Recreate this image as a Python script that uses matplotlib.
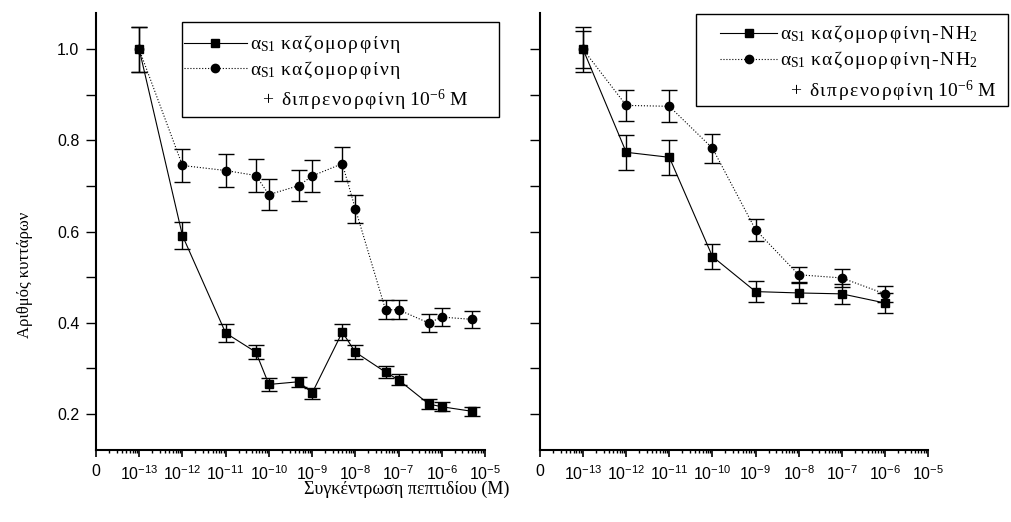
import matplotlib
matplotlib.use("Agg")
import matplotlib.pyplot as plt
from matplotlib.patches import Rectangle
from matplotlib.ticker import FixedLocator, NullFormatter

plt.rcParams["font.family"] = ["Liberation Sans", "DejaVu Sans"]
plt.rcParams["mathtext.default"] = "regular"
plt.rcParams["axes.unicode_minus"] = False

# left panel: as1-casomorphin alone and with diprenorphine 1e-6 M
conc_left = [1e-13, 1e-12, 1e-11, 5e-11, 1e-10, 5e-10, 1e-9, 5e-9, 1e-8,
             5e-8, 1e-7, 5e-7, 1e-6, 5e-6]
cas_left = [1.0, 0.591, 0.377, 0.335, 0.264, 0.270, 0.245, 0.379, 0.335,
            0.291, 0.274, 0.221, 0.215, 0.205]
cas_left_err = [0.05, 0.030, 0.019, 0.016, 0.014, 0.011, 0.012, 0.018, 0.016,
                0.013, 0.012, 0.010, 0.010, 0.010]
dip_left = [1.0, 0.745, 0.734, 0.723, 0.681, 0.701, 0.722, 0.749, 0.650,
            0.428, 0.428, 0.399, 0.412, 0.407]
dip_left_err = [0.05, 0.037, 0.036, 0.036, 0.034, 0.034, 0.036, 0.037, 0.031,
                0.021, 0.021, 0.019, 0.020, 0.019]

# right panel: as1-casomorphin-NH2 alone and with diprenorphine 1e-6 M
conc_right = [1e-13, 1e-12, 1e-11, 1e-10, 1e-9, 1e-8, 1e-7, 1e-6]
amide = [1.0, 0.774, 0.763, 0.545, 0.468, 0.465, 0.463, 0.443]
amide_err = [0.04, 0.038, 0.038, 0.027, 0.023, 0.023, 0.022, 0.022]
amide_dip = [1.0, 0.877, 0.875, 0.783, 0.604, 0.505, 0.498, 0.463]
amide_dip_err = [0.05, 0.034, 0.035, 0.032, 0.024, 0.018, 0.020, 0.018]

decades = list(range(-14, -4))
xtick_labels = ["0"] + [f"10$^{{{d}}}$" for d in decades[1:]]
ytick_major = [0.2, 0.4, 0.6, 0.8, 1.0]
ytick_minor = [0.3, 0.5, 0.7, 0.9]

SERIF = ["Liberation Serif", "DejaVu Serif"]
GAP = "\u200a"
KEY_SIZE = 14


def spaced(s):
    # the original legend text is letter-spaced
    return GAP.join(s)


fig = plt.figure(figsize=(10.12, 5.22), dpi=100)
ax_l = fig.add_axes([96 / 1012, 72 / 522, 389 / 1012, 437 / 522])
ax_r = fig.add_axes([540 / 1012, 72 / 522, 388 / 1012, 437 / 522])

SQ = dict(marker="s", linestyle="-", markersize=5.5)
CI = dict(marker="o", linestyle=":", markersize=6)


def draw_series(ax, x, y, err, style):
    ax.errorbar(x, y, yerr=err, fmt="none", ecolor="black", elinewidth=1.0,
                capsize=6, capthick=1.0, zorder=2)
    ax.plot(x, y, color="black", linewidth=0.8, markerfacecolor="black",
            markeredgecolor="black", zorder=3, **style)


def style_axes(ax, show_ylabels):
    ax.set_xscale("log")
    ax.set_xlim(1e-14, 1e-5)
    ax.set_ylim(0.12, 1.08)
    ax.set_xticks([10.0 ** d for d in decades], labels=xtick_labels)
    ax.xaxis.set_minor_locator(FixedLocator(
        [k * 10.0 ** d for d in decades[:-1] for k in range(2, 10)]))
    ax.xaxis.set_minor_formatter(NullFormatter())
    ax.set_yticks(ytick_major, labels=[f"{v:.1f}" for v in ytick_major])
    ax.set_yticks(ytick_minor, minor=True)
    for s in ("top", "right"):
        ax.spines[s].set_visible(False)
    for s in ("left", "bottom"):
        ax.spines[s].set_linewidth(1.5)
    ax.tick_params(axis="y", which="both", direction="out", length=7,
                   width=1.0, labelsize=11.5, pad=5, labelleft=show_ylabels)
    ax.tick_params(axis="x", which="major", direction="out", length=5,
                   width=1.2, labelsize=11.5, pad=5)
    ax.tick_params(axis="x", which="minor", direction="out", length=2.5,
                   width=1.0)


def draw_key(ax, frame, hx, handle_y, text_x, base_y, extra_x, labels):
    # hand-built key box so spacing follows the original
    ax.add_patch(Rectangle(frame[:2], frame[2], frame[3],
                           transform=ax.transAxes, fill=False,
                           edgecolor="black", linewidth=1.0, clip_on=False,
                           zorder=5))
    for style, hy, by, label in zip((SQ, CI), handle_y, base_y, labels):
        ax.plot([hx[0], (hx[0] + hx[1]) / 2, hx[1]], [hy, hy, hy],
                transform=ax.transAxes, color="black", linewidth=0.8,
                markevery=[1], markerfacecolor="black", clip_on=False,
                zorder=6, **style)
        ax.text(text_x, by, label, transform=ax.transAxes, va="baseline",
                ha="left", family=SERIF, fontsize=KEY_SIZE)
    ax.text(extra_x, base_y[2], extra, transform=ax.transAxes,
            va="baseline", ha="left", family=SERIF, fontsize=KEY_SIZE)


draw_series(ax_l, conc_left, cas_left, cas_left_err, SQ)
draw_series(ax_l, conc_left, dip_left, dip_left_err, CI)
draw_series(ax_r, conc_right, amide, amide_err, SQ)
draw_series(ax_r, conc_right, amide_dip, amide_dip_err, CI)

style_axes(ax_l, True)
style_axes(ax_r, False)

cas = "α$_{S1}$ " + spaced("καζομορφίνη")
amide_name = cas + GAP + spaced("-NH") + "$_2$"
extra = spaced("+ διπρενορφίνη") + " 10$^{-6}$ M"

draw_key(ax_l, (0.221, 0.763, 0.815, 0.217), (0.226, 0.388),
         (0.932, 0.8735), 0.396, (0.917, 0.858, 0.787), 0.427, (cas, cas))
draw_key(ax_r, (0.402, 0.787, 0.804, 0.2105), (0.464, 0.611),
         (0.9535, 0.894), 0.619, (0.940, 0.881, 0.8085), 0.644,
         (amide_name, amide_name))

fig.text(25 / 1012, 1 - 275 / 522, "Αριθμός κυττάρων", rotation=90,
         ha="center", va="center", family=SERIF, fontsize=12)
fig.text(407 / 1012, 0.062, "Συγκέντρωση πεπτιδίου (M)", ha="center",
         va="center", family=SERIF, fontsize=13)

fig.savefig("out.png", dpi=100)
